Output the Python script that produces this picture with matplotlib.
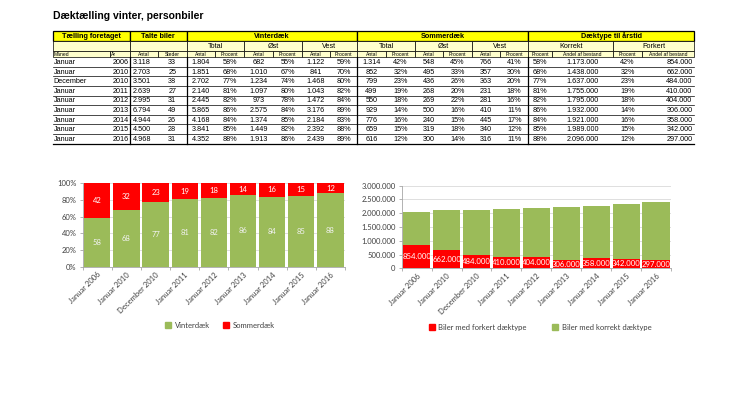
import numpy as np
import matplotlib
matplotlib.use("Agg")
import matplotlib.pyplot as plt
from matplotlib.patches import Rectangle, Patch
from matplotlib.ticker import FuncFormatter, FixedLocator

# ---------------------------------------------
# data from the count table
maaned = ["Januar", "Januar", "December", "Januar", "Januar", "Januar", "Januar", "Januar", "Januar"]
aar = [2006, 2010, 2010, 2011, 2012, 2013, 2014, 2015, 2016]
talte_antal = [3118, 2703, 3501, 2639, 2995, 6794, 4944, 4500, 4968]
talte_steder = [33, 25, 38, 27, 31, 49, 26, 28, 31]
vinter_total = [1804, 1851, 2702, 2140, 2445, 5865, 4168, 3841, 4352]
vinter_total_pct = [58, 68, 77, 81, 82, 86, 84, 85, 88]
vinter_oest = [682, 1010, 1234, 1097, 973, 2575, 1374, 1449, 1913]
vinter_oest_pct = [55, 67, 74, 80, 78, 84, 85, 82, 86]
vinter_vest = [1122, 841, 1468, 1043, 1472, 3176, 2184, 2392, 2439]
vinter_vest_pct = [59, 70, 80, 82, 84, 89, 83, 88, 89]
sommer_total = [1314, 852, 799, 499, 550, 929, 776, 659, 616]
sommer_total_pct = [42, 32, 23, 19, 18, 14, 16, 15, 12]
sommer_oest = [548, 495, 436, 268, 269, 500, 240, 319, 300]
sommer_oest_pct = [45, 33, 26, 20, 22, 16, 15, 18, 14]
sommer_vest = [766, 357, 363, 231, 281, 410, 445, 340, 316]
sommer_vest_pct = [41, 30, 20, 18, 16, 11, 17, 12, 11]
korrekt_pct = [58, 68, 77, 81, 82, 86, 84, 85, 88]
korrekt_andel = [1173000, 1438000, 1637000, 1755000, 1795000, 1932000, 1921000, 1989000, 2096000]
forkert_pct = [42, 32, 23, 19, 18, 14, 16, 15, 12]
forkert_andel = [854000, 662000, 484000, 410000, 404000, 306000, 358000, 342000, 297000]

kategorier = [m + " " + str(a) for m, a in zip(maaned, aar)]

GRON = "#9BBB59"
ROD = "#FF0000"
GUL = "#FFFF00"
LYSGUL = "#FFFFCC"
TAB_FONT = "Liberation Sans"
CHART_FONT = "Lato"


def dk(v):
    return f"{int(v):,}".replace(",", ".")


fig = plt.figure(figsize=(7.46, 4.19), dpi=100)
tab = fig.add_axes([0, 0, 1, 1])
tab.set_xlim(0, 746)
tab.set_ylim(419, 0)
tab.axis("off")

tab.text(52.7, 16, "Dæktælling vinter, personbiler", fontsize=7.5, fontweight="bold",
         family=TAB_FONT, va="center", ha="left")

# column edges (pixels)
kol = [52.7, 110, 130, 157.7, 186.7, 215, 244.3, 273.3, 301.7, 330, 357, 386, 415,
       443.3, 471.7, 500, 528.3, 551.7, 613.3, 641.7, 694]
r1, r2, r3, r4 = 31.5, 40.7, 50.7, 57.3
rh = 9.6


def celle(x0, x1, y0, y1, fc, lw=0.5):
    tab.add_patch(Rectangle((x0, y0), x1 - x0, y1 - y0, facecolor=fc, edgecolor="black", lw=lw))


# header row 1
gruppe = [(0, 2, "Tælling foretaget"), (2, 4, "Talte biler"), (4, 10, "Vinterdæk"),
          (10, 16, "Sommerdæk"), (16, 20, "Dæktype til årstid")]
for a, b, t in gruppe:
    celle(kol[a], kol[b], r1, r2, GUL, lw=0.9)
    tab.text((kol[a] + kol[b]) / 2, (r1 + r2) / 2 + 0.3, t, fontsize=5.2, fontweight="bold",
             family=TAB_FONT, ha="center", va="center")

# header row 2
under = [(0, 2, ""), (2, 4, ""), (4, 6, "Total"), (6, 8, "Øst"), (8, 10, "Vest"),
         (10, 12, "Total"), (12, 14, "Øst"), (14, 16, "Vest"), (16, 18, "Korrekt"), (18, 20, "Forkert")]
for a, b, t in under:
    celle(kol[a], kol[b], r2, r3, LYSGUL)
    tab.text((kol[a] + kol[b]) / 2, (r2 + r3) / 2 + 0.3, t, fontsize=5.2,
             family=TAB_FONT, ha="center", va="center")

# header row 3
smaa = ["Måned", "År", "Antal", "Steder"] + ["Antal", "Procent"] * 6 + \
       ["Procent", "Andel af bestand", "Procent", "Andel af bestand"]
for i, t in enumerate(smaa):
    celle(kol[i], kol[i + 1], r3, r4, LYSGUL)
    if i < 2:
        tab.text(kol[i] + 1, (r3 + r4) / 2 + 0.3, t, fontsize=3.6, family=TAB_FONT,
                 ha="left", va="center")
    else:
        tab.text((kol[i] + kol[i + 1]) / 2, (r3 + r4) / 2 + 0.3, t, fontsize=3.6,
                 family=TAB_FONT, ha="center", va="center")

# data rows
kolonner = [maaned, aar, [dk(v) for v in talte_antal], talte_steder,
            [dk(v) for v in vinter_total], [f"{v}%" for v in vinter_total_pct],
            [dk(v) for v in vinter_oest], [f"{v}%" for v in vinter_oest_pct],
            [dk(v) for v in vinter_vest], [f"{v}%" for v in vinter_vest_pct],
            [dk(v) for v in sommer_total], [f"{v}%" for v in sommer_total_pct],
            [dk(v) for v in sommer_oest], [f"{v}%" for v in sommer_oest_pct],
            [dk(v) for v in sommer_vest], [f"{v}%" for v in sommer_vest_pct],
            [f"{v}%" for v in korrekt_pct], [dk(v) for v in korrekt_andel],
            [f"{v}%" for v in forkert_pct], [dk(v) for v in forkert_andel]]

for r in range(len(maaned)):
    yc = r4 + rh * (r + 0.5) + 0.4
    for c, vals in enumerate(kolonner):
        t = str(vals[r])
        if c == 0:
            tab.text(kol[c] + 1, yc, t, fontsize=5.2, family=TAB_FONT, ha="left", va="center")
        elif c == 2:
            tab.text(kol[c] + 2.5, yc, t, fontsize=5.2, family=TAB_FONT, ha="left", va="center")
        elif c == 1 or c == 19:
            tab.text(kol[c + 1] - 1.5, yc, t, fontsize=5.2, family=TAB_FONT, ha="right", va="center")
        else:
            tab.text((kol[c] + kol[c + 1]) / 2, yc, t, fontsize=5.2, family=TAB_FONT,
                     ha="center", va="center")
    yb = r4 + rh * (r + 1)
    tab.plot([kol[0], kol[-1]], [yb, yb], color="black", lw=0.9 if r == len(maaned) - 1 else 0.5)

for c in [2, 4, 10, 16]:
    tab.plot([kol[c], kol[c]], [r4, r4 + rh * len(maaned)], color="black", lw=0.9)

# ---------------------------------------------
# charts
x = np.arange(len(kategorier))


def stil(ax):
    for s in ["top", "right"]:
        ax.spines[s].set_visible(False)
    ax.spines["left"].set_color("#A6A6A6")
    ax.spines["bottom"].set_color("#A6A6A6")
    ax.spines["left"].set_linewidth(0.6)
    ax.spines["bottom"].set_linewidth(0.6)
    ax.yaxis.grid(True, color="#D9D9D9", lw=0.6)
    ax.set_axisbelow(True)
    ax.set_xlim(-0.5, len(kategorier) - 0.5)
    ax.set_xticks(x)
    ax.set_xticklabels(kategorier, rotation=45, ha="right", rotation_mode="anchor",
                       fontsize=5.5, family=CHART_FONT, color="#404040")
    ax.xaxis.set_minor_locator(FixedLocator(np.arange(-0.5, len(kategorier), 1)))
    ax.tick_params(axis="x", which="major", length=0, pad=3)
    ax.tick_params(axis="x", which="minor", length=2.5, color="#A6A6A6", width=0.6)
    ax.tick_params(axis="y", length=2.5, color="#A6A6A6", width=0.6, labelsize=5.5,
                   labelcolor="#404040", pad=2)
    for lab in ax.get_yticklabels():
        lab.set_family(CHART_FONT)


ax1 = fig.add_axes([82.7 / 746, 1 - 266.7 / 419, 262.3 / 746, 83.4 / 419])
ax1.bar(x, vinter_total_pct, width=0.9, color=GRON, label="Vinterdæk")
ax1.bar(x, sommer_total_pct, width=0.9, bottom=vinter_total_pct, color=ROD, label="Sommerdæk")
ax1.set_ylim(0, 100)
ax1.set_yticks(np.arange(0, 101, 20))
ax1.yaxis.set_major_formatter(FuncFormatter(lambda v, p: f"{int(v)}%"))
stil(ax1)
for i in x:
    ax1.text(i, vinter_total_pct[i] / 2, str(vinter_total_pct[i]), ha="center", va="center",
             fontsize=5.5, color="#F2F2F2", family=CHART_FONT)
    ax1.text(i, vinter_total_pct[i] + sommer_total_pct[i] / 2, str(sommer_total_pct[i]),
             ha="center", va="center", fontsize=5.5, color="white", family=CHART_FONT)
fig.legend(handles=[Patch(color=GRON, label="Vinterdæk"), Patch(color=ROD, label="Sommerdæk")],
           loc="center", bbox_to_anchor=(220 / 746, 1 - 325.5 / 419), ncol=2, frameon=False,
           prop={"family": CHART_FONT, "size": 5.5}, handlelength=0.8, handleheight=0.8,
           handletextpad=0.4, columnspacing=1.8, labelcolor="#404040")

ax2 = fig.add_axes([401.7 / 746, 1 - 268.3 / 419, 269.3 / 746, 82.6 / 419])
ax2.bar(x, forkert_andel, width=0.91, color=ROD)
ax2.bar(x, korrekt_andel, width=0.91, bottom=forkert_andel, color=GRON)
ax2.set_ylim(0, 3000000)
ax2.set_yticks(np.arange(0, 3000001, 500000))
ax2.yaxis.set_major_formatter(FuncFormatter(lambda v, p: dk(v)))
stil(ax2)
for i in x:
    ax2.text(i, forkert_andel[i] / 2, dk(forkert_andel[i]), ha="center", va="center",
             fontsize=5.6, color="white", family=CHART_FONT)
fig.legend(handles=[Patch(color=ROD, label="Biler med forkert dæktype"),
                    Patch(color=GRON, label="Biler med korrekt dæktype")],
           loc="center", bbox_to_anchor=(540 / 746, 1 - 327 / 419), ncol=2, frameon=False,
           prop={"family": CHART_FONT, "size": 5.5}, handlelength=0.8, handleheight=0.8,
           handletextpad=0.4, columnspacing=3.4, labelcolor="#404040")

fig.savefig("out.png", dpi=100)
